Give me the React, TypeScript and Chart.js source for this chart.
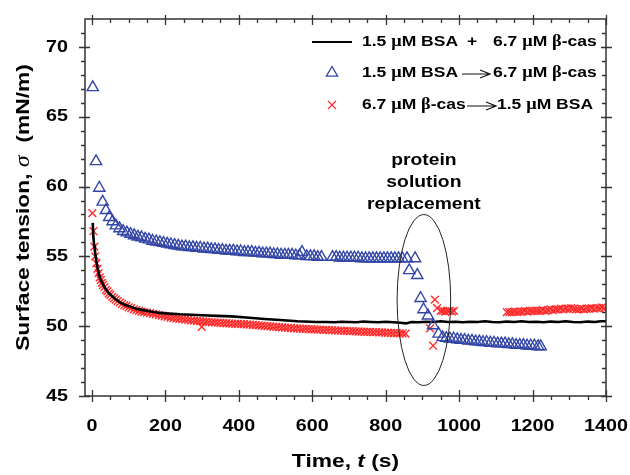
import { useEffect, useRef } from "react";
import { Chart, registerables } from "chart.js";

Chart.register(...registerables);

// ---------- data ----------
const mixT = [2, 4, 6, 8, 11, 15, 19, 23, 28, 34, 40, 48, 57, 66, 76, 88, 104, 120, 140, 160, 185, 210, 240, 270, 300, 340, 380, 420, 470, 512, 560, 610, 640, 660, 680, 700, 720, 740, 760, 780, 800, 820, 840, 855, 870, 890, 910, 930, 950, 970, 990, 1010, 1030, 1050, 1070, 1090, 1110, 1130, 1150, 1170, 1190, 1210, 1230, 1250, 1270, 1290, 1310, 1330, 1350, 1370, 1385, 1400];
const mixY = [57.4, 56.3, 55.8, 55.4, 54.8, 54.2, 53.7, 53.4, 53.1, 52.8, 52.55, 52.3, 52.1, 51.9, 51.7, 51.55, 51.4, 51.25, 51.15, 51.05, 50.95, 50.9, 50.85, 50.82, 50.78, 50.74, 50.7, 50.62, 50.52, 50.44, 50.35, 50.3, 50.3, 50.28, 50.32, 50.3, 50.28, 50.33, 50.3, 50.28, 50.32, 50.28, 50.25, 50.2, 50.3, 50.28, 50.32, 50.3, 50.35, 50.3, 50.32, 50.28, 50.32, 50.3, 50.35, 50.3, 50.28, 50.33, 50.3, 50.35, 50.3, 50.32, 50.28, 50.33, 50.3, 50.35, 50.3, 50.28, 50.33, 50.3, 50.35, 50.35];

const bsaFirstT = [2, 11, 20, 29, 38, 47, 56, 65, 75, 85, 95, 105, 115, 125, 135, 145, 155, 165, 175, 185, 195, 205, 215, 225, 235, 245, 255, 265, 275, 285, 295, 305, 315, 325, 335, 345, 355, 365, 375, 385, 395, 405, 415, 425, 435, 445, 455, 465, 475, 485, 495, 505, 515, 525, 535, 545, 555, 565, 572, 585, 595, 605, 615, 625, 655, 665, 675, 685, 695, 705, 715, 725, 735, 745, 755, 765, 775, 785, 795, 805, 815, 825, 835, 845, 858, 864, 880, 886, 895, 903, 915, 929, 944, 955, 965, 975, 985, 995, 1005, 1015, 1025, 1035, 1045, 1055, 1065, 1075, 1085, 1095, 1105, 1115, 1125, 1135, 1145, 1155, 1165, 1175, 1185, 1195, 1205, 1215, 1222];
const bsaFirstY = [67.1, 61.8, 59.9, 58.9, 58.3, 57.8, 57.5, 57.2, 57.0, 56.8, 56.7, 56.6, 56.5, 56.4, 56.35, 56.25, 56.2, 56.1, 56.05, 56.0, 55.95, 55.9, 55.85, 55.8, 55.75, 55.7, 55.7, 55.65, 55.65, 55.6, 55.6, 55.55, 55.55, 55.5, 55.5, 55.45, 55.45, 55.4, 55.4, 55.4, 55.35, 55.35, 55.3, 55.3, 55.3, 55.25, 55.25, 55.2, 55.2, 55.2, 55.15, 55.15, 55.1, 55.1, 55.1, 55.1, 55.05, 55.05, 55.3, 55.0, 55.0, 55.0, 54.95, 54.95, 54.95, 54.95, 54.9, 54.9, 54.9, 54.9, 54.9, 54.9, 54.85, 54.85, 54.85, 54.85, 54.85, 54.85, 54.85, 54.85, 54.85, 54.85, 54.85, 54.85, 54.85, 54.0, 54.85, 53.65, 52.0, 51.2, 50.75, 50.05, 49.45, 49.2, 49.15, 49.1, 49.1, 49.05, 49.0, 49.0, 48.95, 48.95, 48.9, 48.9, 48.85, 48.85, 48.8, 48.8, 48.75, 48.75, 48.75, 48.7, 48.7, 48.65, 48.65, 48.65, 48.6, 48.6, 48.6, 48.55, 48.55];

const casFirstT = [1, 4, 6.5, 9, 12, 15, 18, 21, 24, 27, 30, 34, 38, 42, 46, 50, 55, 60, 65, 70, 76, 82, 88, 94, 100, 107, 114, 121, 128, 135, 142, 150, 158, 166, 174, 182, 190, 198, 206, 214, 222, 230, 238, 246, 254, 262, 270, 278, 286, 294, 299, 302, 310, 318, 326, 334, 342, 350, 358, 366, 374, 382, 390, 398, 406, 414, 422, 430, 438, 446, 454, 462, 470, 478, 486, 494, 502, 510, 518, 526, 534, 542, 550, 558, 566, 574, 582, 590, 598, 606, 614, 622, 630, 638, 646, 654, 662, 670, 678, 686, 694, 702, 710, 718, 726, 734, 742, 750, 758, 766, 774, 782, 790, 798, 806, 814, 822, 830, 838, 846, 854, 921, 929, 934, 940, 950, 956, 962, 968, 974, 980, 986, 1130, 1137, 1144, 1151, 1158, 1165, 1172, 1179, 1186, 1193, 1200, 1207, 1214, 1221, 1228, 1235, 1242, 1249, 1256, 1263, 1270, 1277, 1284, 1291, 1298, 1305, 1312, 1319, 1326, 1333, 1340, 1347, 1354, 1361, 1368, 1375, 1382, 1389, 1396];
const casFirstY = [58.1, 56.8, 55.7, 55.0, 54.5, 54.1, 53.8, 53.5, 53.3, 53.1, 52.95, 52.8, 52.6, 52.5, 52.35, 52.25, 52.1, 52.0, 51.9, 51.8, 51.7, 51.6, 51.5, 51.45, 51.35, 51.3, 51.2, 51.15, 51.1, 51.05, 51.0, 50.97, 50.93, 50.88, 50.84, 50.8, 50.75, 50.7, 50.66, 50.62, 50.58, 50.55, 50.52, 50.5, 50.47, 50.45, 50.42, 50.4, 50.38, 50.36, 49.95, 50.34, 50.32, 50.3, 50.28, 50.27, 50.25, 50.24, 50.22, 50.21, 50.2, 50.18, 50.17, 50.16, 50.15, 50.14, 50.13, 50.12, 50.1, 50.08, 50.06, 50.04, 50.02, 50.0, 49.98, 49.96, 49.95, 49.93, 49.92, 49.9, 49.88, 49.87, 49.85, 49.84, 49.82, 49.81, 49.8, 49.79, 49.78, 49.77, 49.76, 49.75, 49.74, 49.73, 49.72, 49.71, 49.7, 49.69, 49.68, 49.67, 49.66, 49.65, 49.64, 49.63, 49.62, 49.61, 49.6, 49.6, 49.59, 49.58, 49.57, 49.56, 49.55, 49.54, 49.53, 49.52, 49.51, 49.5, 49.49, 49.48, 49.47, 49.85, 48.6, 51.9, 51.3, 51.1, 51.1, 51.05, 51.1, 51.1, 51.05, 51.1, 51.0, 51.0, 51.0, 51.05, 51.0, 51.05, 51.05, 51.1, 51.05, 51.1, 51.1, 51.1, 51.1, 51.1, 51.15, 51.1, 51.15, 51.2, 51.15, 51.2, 51.2, 51.25, 51.2, 51.25, 51.25, 51.3, 51.25, 51.2, 51.2, 51.25, 51.2, 51.25, 51.25, 51.3, 51.25, 51.3, 51.3, 51.35, 51.3];

const xMajorTicks = [0, 200, 400, 600, 800, 1000, 1200, 1400];
const xMinorTicks = [50, 100, 150, 250, 300, 350, 450, 500, 550, 650, 700, 750, 850, 900, 950, 1050, 1100, 1150, 1250, 1300, 1350];
const yMajorTicks = [45, 50, 55, 60, 65, 70];
const yMinorTicks = [46, 47, 48, 49, 51, 52, 53, 54, 56, 57, 58, 59, 61, 62, 63, 64, 66, 67, 68, 69, 71];

const legendMix = ["1.5 μM BSA", "+", "6.7 μM β-cas"];
const legendBsaFirst = ["1.5 μM BSA", "6.7 μM β-cas"];
const legendCasFirst = ["6.7 μM β-cas", "1.5 μM BSA"];
const noteLines = ["protein", "solution", "replacement"];
const noteEllipse = { t: 904, y: 51.875, dt: 73, dy: 6.12 };

// ---------- styles ----------
const SANS = '"Liberation Sans", Arial, sans-serif';
const SERIF = '"Liberation Serif", "Times New Roman", serif';
const AXIS = "#333333";
const BLUE = "#3346a6";
const RED = "#ff2b2b";

type Run = [string, string];

function runsFor(text: string, size: number, greekItalic = false): Run[] {
  const out: Run[] = [];
  let buf = "";
  const flush = () => {
    if (buf) out.push([buf, `bold ${size}px ${SANS}`]);
    buf = "";
  };
  for (const ch of text) {
    if ("μβσ".includes(ch)) {
      flush();
      out.push([ch, `${greekItalic ? "italic " : ""}bold ${size * 1.05}px ${SERIF}`]);
    } else buf += ch;
  }
  flush();
  return out;
}

function drawRuns(ctx: CanvasRenderingContext2D, runs: Run[], x: number, y: number, align: "left" | "center" | "right", stretch: number) {
  ctx.save();
  ctx.textBaseline = "middle";
  ctx.textAlign = "left";
  const widths = runs.map(([t, f]) => {
    ctx.font = f;
    return ctx.measureText(t).width;
  });
  const total = widths.reduce((a, b) => a + b, 0) * stretch;
  const start = align === "left" ? x : align === "center" ? x - total / 2 : x - total;
  ctx.translate(start, y);
  ctx.scale(stretch, 1);
  let cx = 0;
  runs.forEach(([t, f], i) => {
    ctx.font = f;
    ctx.fillText(t, cx, 0);
    cx += widths[i];
  });
  ctx.restore();
}

function drawArrow(ctx: CanvasRenderingContext2D, x1: number, x2: number, y: number) {
  ctx.save();
  ctx.strokeStyle = "#111";
  ctx.lineWidth = 1.2;
  ctx.beginPath();
  ctx.moveTo(x1, y);
  ctx.lineTo(x2, y);
  ctx.moveTo(x2 - 10, y - 4);
  ctx.lineTo(x2, y);
  ctx.lineTo(x2 - 10, y + 4);
  ctx.stroke();
  ctx.restore();
}

const framePlugin = {
  id: "frameAndText",
  afterDraw(chart: any) {
    const ctx: CanvasRenderingContext2D = chart.ctx;
    const { left, right, top, bottom } = chart.chartArea;
    const xs = chart.scales.x;
    const ys = chart.scales.y;
    ctx.save();
    ctx.fillStyle = "#000";
    // frame
    ctx.strokeStyle = AXIS;
    ctx.lineWidth = 1.5;
    ctx.strokeRect(left, top, right - left, bottom - top);
    ctx.beginPath();
    ctx.lineWidth = 1.3;
    for (const v of xMajorTicks) {
      const p = Math.round(xs.getPixelForValue(v)) + 0.5;
      ctx.moveTo(p, bottom - 6); ctx.lineTo(p, bottom + 6);
      ctx.moveTo(p, top - 4); ctx.lineTo(p, top + 6);
    }
    for (const v of xMinorTicks) {
      const p = Math.round(xs.getPixelForValue(v)) + 0.5;
      ctx.moveTo(p, bottom); ctx.lineTo(p, bottom + 4);
      ctx.moveTo(p, top); ctx.lineTo(p, top + 4);
    }
    for (const v of yMajorTicks) {
      const p = Math.round(ys.getPixelForValue(v)) + 0.5;
      ctx.moveTo(left - 6, p); ctx.lineTo(left + 5, p);
      ctx.moveTo(right - 5, p); ctx.lineTo(right + 6, p);
    }
    for (const v of yMinorTicks) {
      const p = Math.round(ys.getPixelForValue(v)) + 0.5;
      ctx.moveTo(left - 4, p); ctx.lineTo(left, p);
      ctx.moveTo(right - 4, p); ctx.lineTo(right, p);
    }
    ctx.stroke();

    // tick labels
    for (const v of xMajorTicks) {
      drawRuns(ctx, [[String(v), `bold 17px ${SANS}`]], xs.getPixelForValue(v), bottom + 30, "center", 1.16);
    }
    for (const v of yMajorTicks) {
      drawRuns(ctx, [[String(v), `bold 17px ${SANS}`]], left - 17, ys.getPixelForValue(v), "right", 1.16);
    }

    // axis titles
    drawRuns(ctx, [["Time, ", `bold 19px ${SANS}`], ["t", `italic bold 19px ${SANS}`], [" (s)", `bold 19px ${SANS}`]], (left + right) / 2, bottom + 66, "center", 1.2);
    ctx.save();
    ctx.translate(24, (top + bottom) / 2);
    ctx.rotate(-Math.PI / 2);
    drawRuns(ctx, [["Surface tension, ", `bold 19px ${SANS}`], ["σ", `italic 20px ${SERIF}`], ["  (mN/m)", `bold 19px ${SANS}`]], 0, 0, "center", 1.2);
    ctx.restore();

    // legend
    const lx = right - 294;
    const tx = right - 244;
    const t2 = right - 113;
    const r1 = top + 23, r2 = top + 54, r3 = top + 86;
    ctx.strokeStyle = "#000";
    ctx.lineWidth = 2;
    ctx.beginPath();
    ctx.moveTo(lx, r1); ctx.lineTo(lx + 40, r1);
    ctx.stroke();
    drawRuns(ctx, runsFor(legendMix[0], 15.5), tx, r1, "left", 1.13);
    drawRuns(ctx, runsFor(legendMix[1], 15.5), right - 134, r1, "center", 1.13);
    drawRuns(ctx, runsFor(legendMix[2], 15.5), t2, r1, "left", 1.13);

    // triangle symbol
    const sx = lx + 20;
    ctx.strokeStyle = BLUE;
    ctx.lineWidth = 1.3;
    ctx.beginPath();
    ctx.moveTo(sx, r2 - 6.5);
    ctx.lineTo(sx + 5.6, r2 + 3.2);
    ctx.lineTo(sx - 5.6, r2 + 3.2);
    ctx.closePath();
    ctx.stroke();
    drawRuns(ctx, runsFor(legendBsaFirst[0], 15.5), tx, r2, "left", 1.13);
    drawArrow(ctx, right - 144, right - 116, r2 + 1);
    drawRuns(ctx, runsFor(legendBsaFirst[1], 15.5), t2, r2, "left", 1.13);

    // cross symbol
    ctx.strokeStyle = RED;
    ctx.lineWidth = 1.1;
    ctx.beginPath();
    ctx.moveTo(sx - 4, r3 - 4); ctx.lineTo(sx + 4, r3 + 4);
    ctx.moveTo(sx + 4, r3 - 4); ctx.lineTo(sx - 4, r3 + 4);
    ctx.stroke();
    drawRuns(ctx, runsFor(legendCasFirst[0], 15.5), tx, r3, "left", 1.13);
    drawArrow(ctx, right - 139, right - 110, r3 + 1);
    drawRuns(ctx, runsFor(legendCasFirst[1], 15.5), right - 109, r3, "left", 1.13);

    // annotation
    const cx = xs.getPixelForValue(noteEllipse.t);
    const cy = ys.getPixelForValue(noteEllipse.y);
    const rx = xs.getPixelForValue(noteEllipse.t + noteEllipse.dt) - cx;
    const ry = cy - ys.getPixelForValue(noteEllipse.y + noteEllipse.dy);
    noteLines.forEach((s, i) => {
      drawRuns(ctx, [[s, `bold 16.5px ${SANS}`]], cx, top + 141 + i * 22, "center", 1.17);
    });
    ctx.strokeStyle = "#222";
    ctx.lineWidth = 1;
    ctx.beginPath();
    ctx.ellipse(cx, cy, rx, ry, 0, 0, Math.PI * 2);
    ctx.stroke();
    ctx.restore();
  },
};

export default function App() {
  const ref = useRef<HTMLCanvasElement>(null);
  useEffect(() => {
    if (!ref.current) return;
    const chart = new Chart(ref.current, {
      type: "scatter",
      data: {
        datasets: [
          {
            label: "1.5 μM BSA → 6.7 μM β-cas",
            data: bsaFirstT.map((t, i) => ({ x: t, y: bsaFirstY[i] })),
            pointStyle: "triangle",
            pointRadius: 6.5,
            borderColor: BLUE,
            backgroundColor: "rgba(0,0,0,0)",
            borderWidth: 1.4,
            showLine: false,
            order: 1,
          },
          {
            label: "1.5 μM BSA + 6.7 μM β-cas",
            data: mixT.map((t, i) => ({ x: t, y: mixY[i] })),
            showLine: true,
            pointRadius: 0,
            borderColor: "#000",
            borderWidth: 2.6,
            tension: 0,
            order: 2,
          },
          {
            label: "6.7 μM β-cas → 1.5 μM BSA",
            data: casFirstT.map((t, i) => ({ x: t, y: casFirstY[i] })),
            pointStyle: "crossRot",
            pointRadius: 5.5,
            borderColor: RED,
            backgroundColor: RED,
            borderWidth: 1.4,
            showLine: false,
            order: 3,
          },
        ],
      },
      options: {
        animation: false,
        responsive: false,
        devicePixelRatio: 1,
        layout: { padding: { top: 19, right: 24, left: 0, bottom: 0 } },
        plugins: { legend: { display: false }, tooltip: { enabled: false } },
        scales: {
          x: {
            type: "linear",
            min: -19,
            max: 1400,
            grid: { display: false },
            border: { display: false },
            ticks: { display: false },
            afterFit: (s: any) => { s.height = 79; },
          },
          y: {
            type: "linear",
            min: 45,
            max: 72,
            grid: { display: false },
            border: { display: false },
            ticks: { display: false },
            afterFit: (s: any) => { s.width = 85; },
          },
        },
      },
      plugins: [framePlugin],
    } as any);
    return () => chart.destroy();
  }, []);
  return (
    <div style={{ position: "fixed", left: 0, top: 0, width: 630, height: 475, background: "#fff" }}>
      <canvas ref={ref} width={630} height={475} />
    </div>
  );
}
